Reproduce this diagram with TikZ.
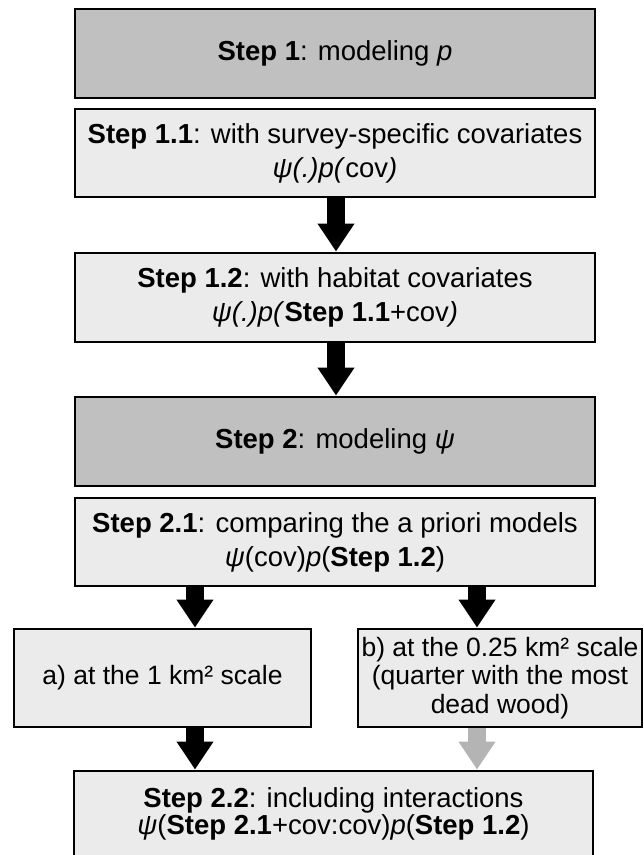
\documentclass[tikz,border=0pt]{standalone}
\usepackage{fontspec}
\setmainfont{Liberation Sans}
\usetikzlibrary{arrows.meta,calc}
\definecolor{darkbox}{HTML}{C0C0C0}
\definecolor{lightbox}{HTML}{EBEBEB}
\definecolor{grayarrow}{HTML}{B4B4B4}
\begin{document}
\begin{tikzpicture}[x=1pt,y=-1pt,
  box/.style={draw=black,line width=2.8pt,fill=lightbox,align=center,inner sep=0pt,
    font=\fontsize{27.5}{34}\selectfont},
  headbox/.style={box,fill=darkbox},
  smallbox/.style={box,font=\fontsize{26.5}{28.5}\selectfont},
  tightbox/.style={box,font=\fontsize{27.5}{27}\selectfont},
  bigarrow/.style={line width=18pt,-{Triangle[length=28pt,width=35pt]},draw=black},
  grayarr/.style={bigarrow,draw=grayarrow}]
\useasboundingbox[fill=white] (0,0) rectangle (644,855);
\node[headbox,minimum width=520pt,minimum height=89pt] (b1) at (335,53.5) {\textbf{Step 1}: modeling \textit{p}};
\node[box,minimum width=520pt,minimum height=88pt] (b11) at (335,153) {\textbf{Step 1.1}: with survey-specific covariates\\\textit{ψ(.)p(}cov\textit{)}};
\node[box,minimum width=520pt,minimum height=89pt] (b12) at (335,297.5) {\textbf{Step 1.2}: with habitat covariates\\\textit{ψ(.)p(}\textbf{Step 1.1}+cov\textit{)}};
\node[headbox,minimum width=520pt,minimum height=89pt] (b2) at (335,441.5) {\textbf{Step 2}: modeling \textit{ψ}};
\node[box,minimum width=520pt,minimum height=88pt] (b21) at (335,542) {\textbf{Step 2.1}: comparing the a priori models\\\textit{ψ}(cov)\textit{p}(\textbf{Step 1.2})};
\node[smallbox,minimum width=297pt,minimum height=98pt] (ba) at (162.5,678) {a) at the 1 km² scale};
\node[smallbox,minimum width=284pt,minimum height=98pt] (bb) at (500,678) {b) at the 0.25 km² scale\\(quarter with the most\\dead wood)};
\node[tightbox,minimum width=519pt,minimum height=86pt] (b22) at (333.5,814) {\textbf{Step 2.2}: including interactions\\\textit{ψ}(\textbf{Step 2.1}+cov:cov)\textit{p}(\textbf{Step 1.2})};
\coordinate (xc) at (336,0);
\coordinate (xl) at (195,0);
\coordinate (xr) at (477,0);
\draw[bigarrow] (b11.south -| xc) -- (b12.north -| xc);
\draw[bigarrow] (b12.south -| xc) -- (b2.north -| xc);
\draw[bigarrow] (b21.south -| xl) -- (ba.north -| xl);
\draw[bigarrow] (b21.south -| xr) -- (bb.north -| xr);
\draw[bigarrow] (ba.south -| xl) -- (b22.north -| xl);
\draw[grayarr] (bb.south -| xr) -- (b22.north -| xr);
\end{tikzpicture}
\end{document}
